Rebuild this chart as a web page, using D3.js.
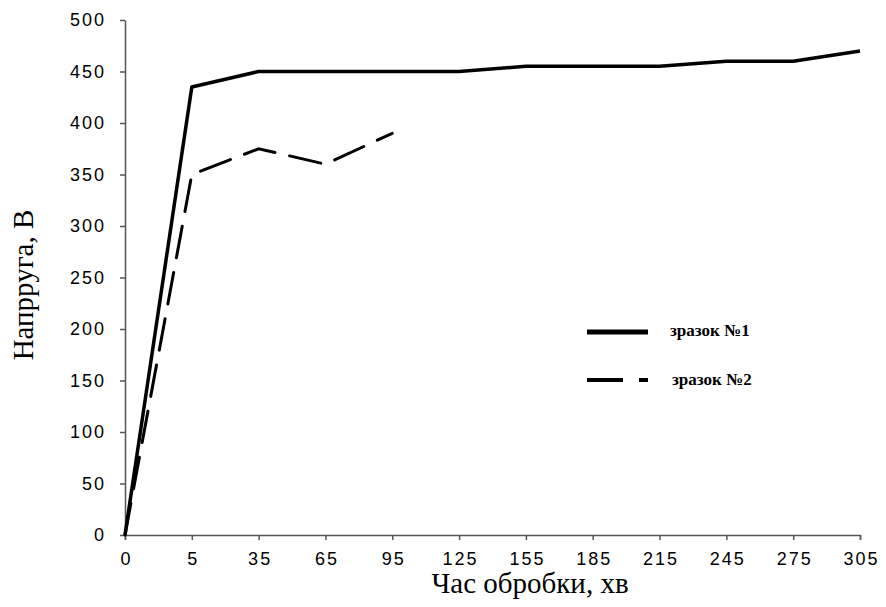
<!DOCTYPE html>
<html>
<head>
<meta charset="utf-8">
<script src="https://cdn.jsdelivr.net/npm/d3@7"></script>
<style>
  body { margin: 0; background: #fff; }
  .tick text { font-family: "Liberation Sans", Arial, sans-serif; font-size: 18px; letter-spacing: 2px; fill: #000; }
  .axis-title { font-family: "Liberation Serif", "Times New Roman", serif; font-size: 29px; fill: #000; }
  .legend { font-family: "Liberation Serif", "Times New Roman", serif; font-size: 17px; font-weight: bold; fill: #000; }
</style>
</head>
<body>
<div id="chart"></div>
<script>
// categories on the x axis (minutes)
const times = ["0", "5", "35", "65", "95", "125", "155", "185", "215", "245", "275", "305"];
// voltage values
const sample1 = [0, 435, 450, 450, 450, 450, 455, 455, 455, 460, 460, 470];
const sample2 = [0, 350, 375, 360, 390];
const yTicks = [0, 50, 100, 150, 200, 250, 300, 350, 400, 450, 500];
const seriesNames = ["зразок №1", "зразок №2"];

const margin = { top: 20, right: 26, bottom: 72, left: 125 };
const width = 886 - margin.left - margin.right;
const height = 607 - margin.top - margin.bottom;

const svg = d3.select("#chart")
    .append("svg")
    .attr("width", 886)
    .attr("height", 607)
    .append("g")
    .attr("transform", `translate(${margin.left}, ${margin.top})`);

// X scale and axis
const xScale = d3.scalePoint()
    .domain(times)
    .range([0, width]);
svg.append("g")
    .attr("transform", `translate(0, ${height})`)
    .call(d3.axisBottom(xScale).tickSize(5).tickPadding(12))
    .call(g => g.selectAll("line, path").attr("stroke", "#555").attr("stroke-width", 1.5))
    .call(g => g.selectAll(".tick text").attr("dx", "1px"));

// Y scale and axis
const yScale = d3.scaleLinear()
    .domain([0, 500])
    .range([height, 0]);
svg.append("g")
    .call(d3.axisLeft(yScale).tickValues(yTicks).tickSize(5).tickPadding(14).tickSizeOuter(0))
    .call(g => g.selectAll("line, path").attr("stroke", "#555").attr("stroke-width", 1.5));

const line = d3.line()
    .x((d, i) => xScale(times[i]))
    .y(d => yScale(d));

// series 1 - solid
svg.append("path")
    .datum(sample1)
    .attr("fill", "none")
    .attr("stroke", "#000")
    .attr("stroke-width", 3.5)
    .attr("stroke-linejoin", "round")
    .attr("d", line);

// series 2 - dashed
svg.append("path")
    .datum(sample2)
    .attr("fill", "none")
    .attr("stroke", "#000")
    .attr("stroke-width", 3)
    .attr("stroke-dasharray", "32,15")
    .attr("stroke-linecap", "round")
    .attr("d", line);

// axis titles
svg.append("text")
    .attr("class", "axis-title")
    .attr("transform", `translate(${-margin.left + 33}, ${285 - margin.top}) rotate(-90)`)
    .attr("text-anchor", "middle")
    .text("Напрруга, В");

svg.append("text")
    .attr("class", "axis-title")
    .attr("x", 530 - margin.left)
    .attr("y", 593 - margin.top)
    .attr("text-anchor", "middle")
    .text("Час обробки, хв");

// legend
const lx = 587 - margin.left;
svg.append("line")
    .attr("x1", lx).attr("x2", lx + 61)
    .attr("y1", 332 - margin.top).attr("y2", 332 - margin.top)
    .attr("stroke", "#000").attr("stroke-width", 5);
svg.append("text")
    .attr("class", "legend")
    .attr("x", 670 - margin.left)
    .attr("y", 332 - margin.top)
    .attr("dominant-baseline", "middle")
    .text(seriesNames[0]);

svg.append("line")
    .attr("x1", lx).attr("x2", lx + 61)
    .attr("y1", 380 - margin.top).attr("y2", 380 - margin.top)
    .attr("stroke", "#000").attr("stroke-width", 4)
    .attr("stroke-dasharray", "36,16");
svg.append("text")
    .attr("class", "legend")
    .attr("x", 672 - margin.left)
    .attr("y", 381 - margin.top)
    .attr("dominant-baseline", "middle")
    .text(seriesNames[1]);
</script>
</body>
</html>
